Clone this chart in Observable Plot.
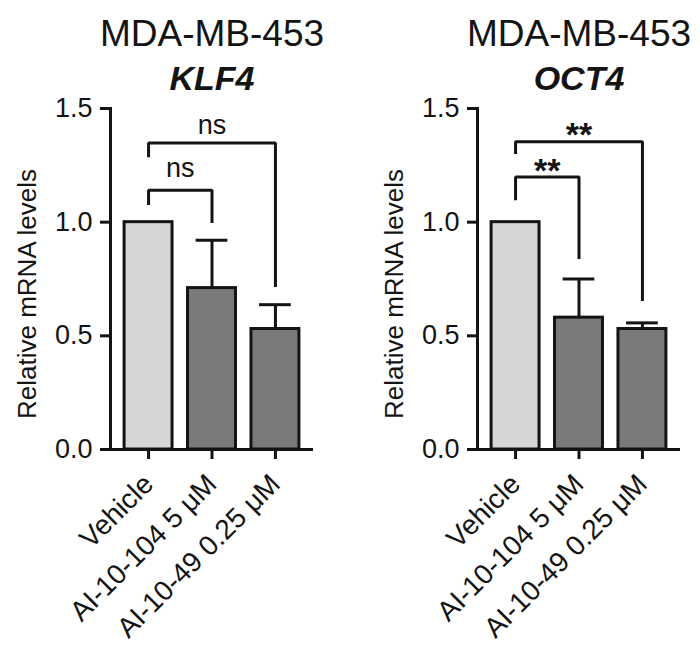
<!DOCTYPE html>
<html>
<head>
<meta charset="utf-8">
<script src="https://cdn.jsdelivr.net/npm/d3@7"></script>
<script src="https://cdn.jsdelivr.net/npm/@observablehq/plot@0.6"></script>
<style>
  html, body { margin: 0; padding: 0; background: #fff; }
  #wrap { display: flex; width: 700px; height: 657px; }
</style>
</head>
<body>
<div id="wrap"></div>
<script>
// ---- data ----
const cellLine = "MDA-MB-453";
const categories = ["Vehicle", "AI-10-104 5 μM", "AI-10-49 0.25 μM"];
const barColors = ["#d6d6d6", "#7a7a7a", "#7a7a7a"];
const yTicks = [0, 0.5, 1.0, 1.5];
const yLabel = "Relative mRNA levels";

const klf4Mean = [1.0, 0.71, 0.53];
const klf4Err  = [0, 0.21, 0.107];
const oct4Mean = [1.0, 0.58, 0.53];
const oct4Err  = [0, 0.17, 0.027];

// brackets: from / to category index, y of top bar, left leg end, right leg end, label, label y
const klf4Brackets = [
  {from: 0, to: 1, top: 1.14, left: 1.075, right: 0.996, label: "ns", labelY: 1.235},
  {from: 0, to: 2, top: 1.348, left: 1.286, right: 0.715, label: "ns", labelY: 1.425}
];
const oct4Brackets = [
  {from: 0, to: 1, top: 1.199, left: 1.096, right: 0.838, label: "**", labelY: 1.225},
  {from: 0, to: 2, top: 1.354, left: 1.30, right: 0.653, label: "**", labelY: 1.384}
];

const font = "'Liberation Sans', Arial, sans-serif";
const ink = "#141414";

function panel(gene, means, errs, brackets, marginLeft, marginRight) {
  const data = categories.map((c, i) => ({i, cat: c, mean: means[i], err: errs[i], color: barColors[i]}));
  const withErr = data.filter(d => d.err > 0);
  const pts = brackets.flatMap((b, k) => [
    {k, x: b.from, y: b.left},
    {k, x: b.from, y: b.top},
    {k, x: b.to, y: b.top},
    {k, x: b.to, y: b.right}
  ]);
  const labels = brackets.map(b => ({x: (b.from + b.to) / 2, y: b.labelY, t: b.label}));
  const mid = (categories.length - 1) / 2;
  const half = 0.378;
  return Plot.plot({
    width: 350,
    height: 657,
    marginTop: 108,
    marginBottom: 208,
    marginLeft,
    marginRight,
    style: {fontFamily: font, background: "#fff", color: ink},
    x: {domain: [-0.6, categories.length - 0.4]},
    y: {domain: [0, 1.5]},
    marks: [
      Plot.rectY(data, {x1: d => d.i - half, x2: d => d.i + half, y: "mean", fill: "color", stroke: ink, strokeWidth: 3}),
      Plot.ruleX(withErr, {x: "i", y1: "mean", y2: d => d.mean + d.err, stroke: ink, strokeWidth: 3}),
      Plot.ruleY(withErr, {y: d => d.mean + d.err, x1: d => d.i - 0.25, x2: d => d.i + 0.25, stroke: ink, strokeWidth: 3}),
      Plot.line(pts, {x: "x", y: "y", z: "k", stroke: ink, strokeWidth: 3, strokeLinejoin: "miter", strokeLinecap: "butt"}),
      Plot.text(labels.filter(d => d.t === "ns"), {x: "x", y: "y", text: "t", fontSize: 27, fill: ink}),
      Plot.text(labels.filter(d => d.t !== "ns"), {x: "x", y: "y", text: "t", fontSize: 34, fontWeight: "bold", fill: ink}),
      Plot.frame({anchor: "left", stroke: ink, strokeWidth: 3}),
      Plot.ruleY([0], {stroke: ink, strokeWidth: 3}),
      Plot.axisY({ticks: yTicks, tickFormat: ".1f", tickSize: 10, tickPadding: 8, fontSize: 27, strokeWidth: 3, stroke: ink, fill: ink, label: null}),
      Plot.axisX({ticks: categories.map((c, i) => i), tickFormat: i => categories[i], tickRotate: -45, tickSize: 10, tickPadding: 20, fontSize: 28, strokeWidth: 3, stroke: ink, fill: ink, label: null}),
      Plot.text([yLabel], {frameAnchor: "left", textAnchor: "middle", lineAnchor: "middle", rotate: -90, dx: -83, dy: 15, fontSize: 26, fill: ink}),
      Plot.text([{x: mid, t: cellLine}], {x: "x", text: "t", frameAnchor: "top", lineAnchor: "middle", dy: -74.5, fontSize: 37, fill: ink}),
      Plot.text([{x: mid, t: gene}], {x: "x", text: "t", frameAnchor: "top", lineAnchor: "middle", dy: -29, fontSize: 34, fontWeight: "bold", fontStyle: "italic", fill: ink})
    ]
  });
}

const wrap = document.getElementById("wrap");
wrap.appendChild(panel("KLF4", klf4Mean, klf4Err, klf4Brackets, 110, 37));
wrap.appendChild(panel("OCT4", oct4Mean, oct4Err, oct4Brackets, 127, 20));
</script>
</body>
</html>
